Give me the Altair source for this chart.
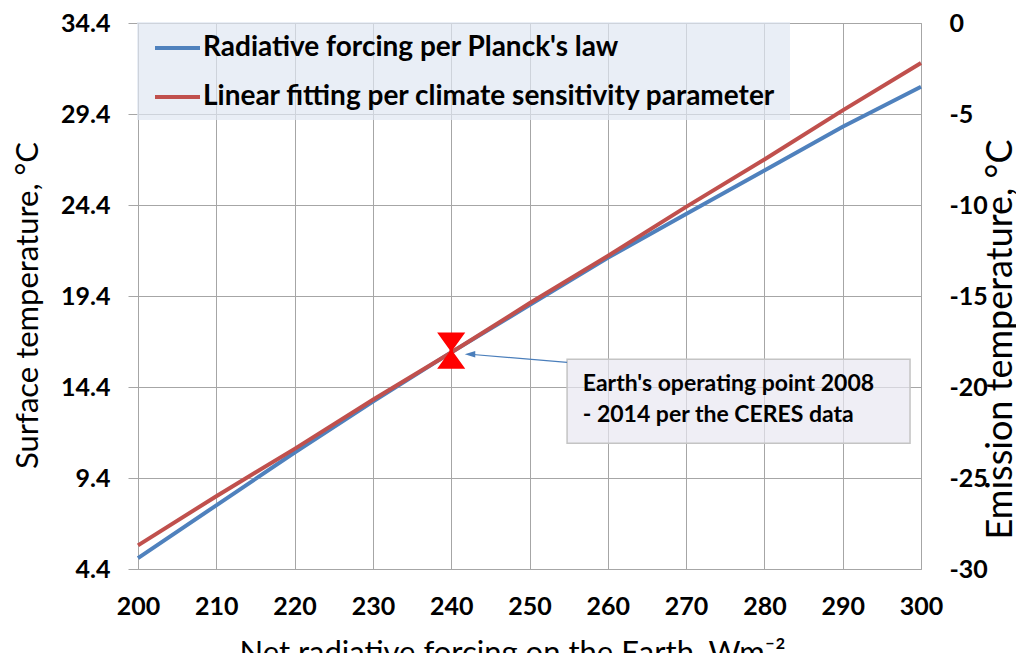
import altair as alt
import pandas as pd

# ---- data ----
forcing = [200, 210, 220, 230, 240, 250, 260, 270, 280, 290, 300]
planck = [5.0, 7.9, 10.8, 13.6, 16.3, 18.9, 21.5, 23.9, 26.3, 28.7, 30.9]
linear = [5.7, 8.4, 11.0, 13.7, 16.3, 19.0, 21.6, 24.3, 26.9, 29.6, 32.2]
left_ticks = [4.4, 9.4, 14.4, 19.4, 24.4, 29.4, 34.4]
right_ticks = [-30, -25, -20, -15, -10, -5, 0]
op_x = [240]
op_y = [16.4]
series_names = ["Radiative forcing per Planck's law",
                "Linear fitting per climate sensitivity parameter"]
note_lines = ["Earth's operating point 2008", "- 2014 per the CERES data"]
note_x = [256.8, 256.8]
note_y = [14.55, 12.85]
note_box_x = [254.8, 298.6]
note_box_y = [15.92, 11.31]
arrow_x = [254.8, 242.4]
arrow_y = [15.75, 16.2]

BLUE = "#4f81bd"
RED = "#c0504d"
GRID = "#a6a6a6"
FONT = "Lato"

df_planck = pd.DataFrame({"F": forcing, "T": planck})
df_linear = pd.DataFrame({"F": forcing, "T": linear})

x_enc = alt.X("F:Q", scale=alt.Scale(domain=[200, 300], nice=False),
              axis=alt.Axis(values=forcing, ticks=False, domain=False, grid=True,
                            gridColor=GRID, labelFont=FONT, labelFontWeight="bold",
                            labelFontSize=25, labelColor="black", labelPadding=25,
                            labelFlush=False, labelOverlap=False,
                            title="Net radiative forcing on the Earth, Wm⁻²",
                            titleFont=FONT, titleFontSize=31, titleFontWeight="normal",
                            titleColor="black", titleX=374, titleY=93,
                            titleAlign="center", titleBaseline="alphabetic"))
y_enc = alt.Y("T:Q", scale=alt.Scale(domain=[4.4, 34.4], nice=False, zero=False),
              axis=alt.Axis(values=left_ticks, format=".1f", labelFont=FONT,
                            labelFontWeight="bold", labelFontSize=25, labelColor="black",
                            labelPadding=18, tickSize=10, tickColor=GRID, domain=False,
                            labelFlush=False, labelOverlap=False,
                            grid=True, gridColor=GRID,
                            title="Surface temperature, °C", titleFont=FONT,
                            titleFontSize=31, titleFontWeight="normal", titleColor="black",
                            titleAngle=270, titleX=-110, titleY=282,
                            titleAlign="center", titleBaseline="middle"))

line_blue = alt.Chart(df_planck).mark_line(color=BLUE, strokeWidth=4).encode(x=x_enc, y=y_enc)
line_red = alt.Chart(df_linear).mark_line(color=RED, strokeWidth=4).encode(x=x_enc, y=y_enc)

# operating point marker (hourglass)
hourglass = ("M-0.78,-1 L0.78,-1 L0.1,-0.06 L0.1,0.06 L0.78,1 L-0.78,1 "
             "L-0.1,0.06 L-0.1,-0.06 Z")
marker = alt.Chart(pd.DataFrame({"F": op_x, "T": op_y})).mark_point(
    shape=hourglass, size=1300, filled=True, color="#ff0000", opacity=1
).encode(x=x_enc, y=y_enc)

# annotation box
box_df = pd.DataFrame({"F": [note_box_x[0]], "F2": [note_box_x[1]],
                       "T": [note_box_y[0]], "T2": [note_box_y[1]]})
note_box = alt.Chart(box_df).mark_rect(
    fill="#e8e7f1", fillOpacity=0.7, stroke="#c4c4c4", strokeWidth=1.5
).encode(x=x_enc, x2="F2:Q", y=y_enc, y2="T2:Q")

note_text = alt.Chart(pd.DataFrame({"F": note_x, "T": note_y, "t": note_lines})).mark_text(
    align="left", baseline="middle", font=FONT, fontSize=23, fontWeight="bold", color="black"
).encode(x=x_enc, y=y_enc, text="t:N")

arrow_df = pd.DataFrame({"F": [arrow_x[0]], "F2": [arrow_x[1]],
                         "T": [arrow_y[0]], "T2": [arrow_y[1]]})
arrow_line = alt.Chart(arrow_df).mark_rule(color="#4a7ebb", strokeWidth=1.2).encode(
    x=x_enc, x2="F2:Q", y=y_enc, y2="T2:Q")
arrow_head = alt.Chart(pd.DataFrame({"F": [arrow_x[1]], "T": [arrow_y[1]]})).mark_point(
    shape="M1,-0.6 L-1,0 L1,0.6 Z", size=110, filled=True, color="#4a7ebb", opacity=1
).encode(x=x_enc, y=y_enc)

# legend (manual)
one = pd.DataFrame({"a": [0]})
leg_box = alt.Chart(one).mark_rect(fill="#e0e7f2", fillOpacity=0.7).encode(
    x=alt.value(-1), x2=alt.value(652), y=alt.value(-1), y2=alt.value(97))
leg_blue = alt.Chart(one).mark_rule(color=BLUE, strokeWidth=4).encode(
    x=alt.value(17), x2=alt.value(62), y=alt.value(25), y2=alt.value(25))
leg_red = alt.Chart(one).mark_rule(color=RED, strokeWidth=4).encode(
    x=alt.value(17), x2=alt.value(62), y=alt.value(74), y2=alt.value(74))
leg_t1 = alt.Chart(one).mark_text(
    text=series_names[0], align="left", baseline="middle", font=FONT, fontSize=28,
    fontWeight="bold", color="black").encode(x=alt.value(65), y=alt.value(25))
leg_t2 = alt.Chart(one).mark_text(
    text=series_names[1], align="left", baseline="middle", font=FONT, fontSize=28,
    fontWeight="bold", color="black").encode(x=alt.value(65), y=alt.value(74))

left = alt.layer(leg_box, line_blue, line_red, note_box, arrow_line, arrow_head,
                 note_text, marker, leg_blue, leg_red, leg_t1, leg_t2)

right = alt.Chart(pd.DataFrame({"E": right_ticks})).mark_point(opacity=0).encode(
    y=alt.Y("E:Q", scale=alt.Scale(domain=[-30, 0], nice=False, zero=False),
            axis=alt.Axis(orient="right", values=right_ticks, ticks=False, domain=False,
                          grid=False, labelFont=FONT, labelFontWeight="bold",
                          labelExpr="'' + datum.value",
                          labelFlush=False, labelOverlap=False,
                          labelFontSize=25, labelColor="black", labelPadding=28,
                          title="Emission temperature, °C", titleFont=FONT,
                          titleFontSize=36, titleFontWeight="normal", titleColor="black",
                          titleAngle=270, titleX=79, titleY=316,
                          titleAlign="center", titleBaseline="middle")))

chart = alt.layer(left, right).resolve_scale(y="independent").properties(
    width=783, height=546,
    padding={"left": 130, "top": 15, "right": 95, "bottom": 84},
    autosize=alt.AutoSizeParams(type="none"),
    background="white",
).configure_view(stroke=GRID, strokeWidth=1)

chart.save("out.html", embed_options={"renderer": "svg", "actions": False})
